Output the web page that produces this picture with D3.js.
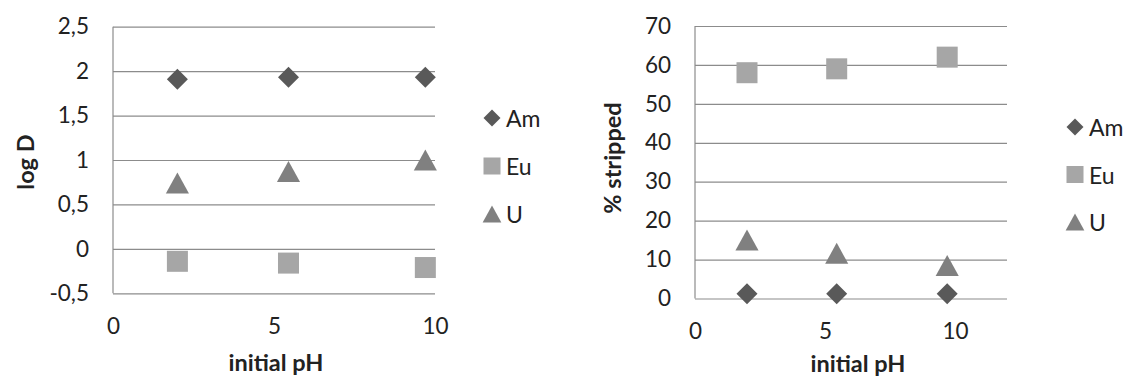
<!DOCTYPE html>
<html><head><meta charset="utf-8">
<script src="https://cdn.jsdelivr.net/npm/d3@7"></script>
<style>body{margin:0;background:#fff}svg{display:block}text{font-family:Lato,"Open Sans",sans-serif;fill:#222}</style>
</head><body>
<svg id="c" width="1129" height="378"></svg>
<script>
const series = ["Am","Eu","U"];
const pH = [2, 5.45, 9.7];
const logD_Am = [1.91, 1.93, 1.93];
const logD_Eu = [-0.14, -0.16, -0.21];
const logD_U = [0.74, 0.87, 1.0];
const strip_Am = [1.2, 1.2, 1.2];
const strip_Eu = [58, 59, 62];
const strip_U = [15, 11.6, 8.5];
const leftYTicks = [-0.5, 0, 0.5, 1, 1.5, 2, 2.5];
const rightYTicks = [0, 10, 20, 30, 40, 50, 60, 70];
const xTicks = [0, 5, 10];

const colors = {Am:"#595959", Eu:"#a6a6a6", U:"#808080"};
const fmt = v => String(v).replace(".", ",");
const svg = d3.select("#c");

function marker(g, type, cx, cy, s) {
  if (type === "Am") {
    const h = s/2;
    g.append("path").attr("d", `M${cx},${cy-h}L${cx+h},${cy}L${cx},${cy+h}L${cx-h},${cy}Z`).attr("fill", colors.Am);
  } else if (type === "Eu") {
    g.append("rect").attr("x", cx-s/2).attr("y", cy-s/2).attr("width", s).attr("height", s).attr("fill", colors.Eu);
  } else {
    const w = s*1.1, h = s;
    g.append("path").attr("d", `M${cx},${cy-h/2}L${cx+w/2},${cy+h/2}L${cx-w/2},${cy+h/2}Z`).attr("fill", colors.U);
  }
}

function chart(cfg) {
  const g = svg.append("g");
  const x = d3.scaleLinear().domain(cfg.xDomain).range(cfg.xRange);
  const y = d3.scaleLinear().domain(cfg.yDomain).range(cfg.yRange);
  const grid = g.append("g").attr("transform", `translate(${cfg.xRange[0]},0)`)
    .call(d3.axisLeft(y).tickValues(cfg.yTicks).tickSize(-(cfg.xRange[1]-cfg.xRange[0])).tickFormat(cfg.yFmt).tickPadding(24));
  grid.select(".domain").remove();
  grid.selectAll("line").attr("stroke", "#8c8c8c").attr("stroke-width", 1.2);
  grid.selectAll("text").attr("font-size", 22.5).attr("fill", "#222");
  g.append("line").attr("x1", cfg.xRange[0]).attr("x2", cfg.xRange[0]).attr("y1", y(cfg.yDomain[1])).attr("y2", y(cfg.yDomain[0])).attr("stroke", "#8c8c8c").attr("stroke-width", 1.2);
  const xa = g.append("g").attr("transform", `translate(0,${y(cfg.yDomain[0])})`)
    .call(d3.axisBottom(x).tickValues(xTicks).tickSize(0).tickPadding(25));
  xa.select(".domain").remove();
  xa.selectAll("text").attr("font-size", 22.5).attr("fill", "#222");
  g.append("text").attr("x", cfg.xTitle[0]).attr("y", cfg.xTitle[1]).attr("text-anchor", "middle")
    .attr("font-size", 23.5).attr("font-weight", "bold").text("initial pH");
  g.append("text").attr("transform", `translate(${cfg.yTitle[0]},${cfg.yTitle[1]}) rotate(-90)`).attr("text-anchor", "middle")
    .attr("dominant-baseline", "central").attr("font-size", 23.5).attr("font-weight", "bold").text(cfg.yLabel);
  series.forEach((s, si) => {
    cfg.data[si].forEach((v, i) => marker(g, s, x(pH[i]), y(v), 21));
  });
  series.forEach((s, si) => {
    const ly = cfg.legend[1] + si*cfg.legendStep;
    marker(g, s, cfg.legend[0], ly, 17);
    g.append("text").attr("x", cfg.legend[0] + 14).attr("y", ly).attr("dominant-baseline", "central")
      .attr("font-size", 23).text(s);
  });
}

chart({
  xDomain:[0,10], xRange:[113,435], yDomain:[-0.5,2.5], yRange:[293.3,26.7], yTicks:leftYTicks, yFmt:fmt,
  xTitle:[276,371], yTitle:[25,162], yLabel:"log D",
  data:[logD_Am, logD_Eu, logD_U], legend:[492,118], legendStep:48
});
chart({
  xDomain:[0,12], xRange:[695,1007], yDomain:[0,70], yRange:[298.5,26], yTicks:rightYTicks, yFmt:d=>d,
  xTitle:[858,372], yTitle:[612,158], yLabel:"% stripped",
  data:[strip_Am, strip_Eu, strip_U], legend:[1075,127], legendStep:47.5
});
</script>
</body></html>
